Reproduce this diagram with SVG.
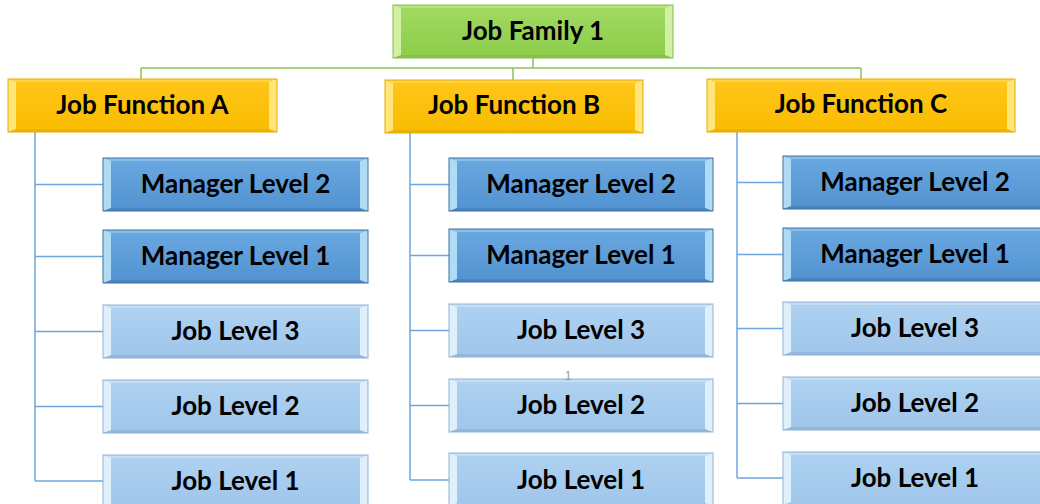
<svg xmlns="http://www.w3.org/2000/svg" width="1040" height="504" viewBox="0 0 1040 504">
  <defs>
    <linearGradient id="gGreen" x1="0" y1="0" x2="0" y2="1">
      <stop offset="0" stop-color="#a2da62"/>
      <stop offset="1" stop-color="#8ccd4a"/>
    </linearGradient>
    <linearGradient id="gOrange" x1="0" y1="0" x2="0" y2="1">
      <stop offset="0" stop-color="#ffc61a"/>
      <stop offset="1" stop-color="#f9bc00"/>
    </linearGradient>
    <linearGradient id="gMgr" x1="0" y1="0" x2="0" y2="1">
      <stop offset="0" stop-color="#6aa8e0"/>
      <stop offset="1" stop-color="#5192d0"/>
    </linearGradient>
    <linearGradient id="gJob" x1="0" y1="0" x2="0" y2="1">
      <stop offset="0" stop-color="#afd2f1"/>
      <stop offset="1" stop-color="#9fc5ea"/>
    </linearGradient>
    <style>
      .lbl { font-family: Lato, "Liberation Sans", sans-serif; font-weight: 700; font-size: 26px; text-anchor: middle; fill: #000; }
      .pg { font-family: "Liberation Sans", sans-serif; font-size: 12px; fill: #9a9a9a; text-anchor: middle; }
      .edge { fill: none; stroke-width: 1; }
      .green .face { fill: url(#gGreen); }
      .green .side { fill: #d2efa4; }
      .green .top { fill: #b6e280; }
      .green .bot { fill: #86c046; }
      .green .edge { stroke: #86bd4d; }
      .orange .face { fill: url(#gOrange); }
      .orange .side { fill: #ffe57a; }
      .orange .top { fill: #ffd245; }
      .orange .bot { fill: #eab300; }
      .orange .edge { stroke: #e6ad00; }
      .mgr .face { fill: url(#gMgr); }
      .mgr .side { fill: #b0dbf5; }
      .mgr .top { fill: #86bde9; }
      .mgr .bot { fill: #4a84bf; }
      .mgr .edge { stroke: #41719c; }
      .job .face { fill: url(#gJob); }
      .job .side { fill: #e0f0fb; }
      .job .top { fill: #c5def5; }
      .job .bot { fill: #93b8dd; }
      .job .edge { stroke: #8db1d5; }
      .cg { fill: none; stroke: #8cc35a; stroke-width: 1.5; }
      .cb { fill: none; stroke: #6fa6dc; stroke-width: 1.5; }
    </style>
  </defs>

  <rect width="1040" height="504" fill="#ffffff"/>

  <!-- connectors -->
  <g id="connectors">
    <path class="cg" d="M533 58 V68 M141 68 H861 M141 68 V79 M513 68 V80 M861 68 V79"/>
    <path class="cb" d="M35 132 V481 M35 184.5 H103 M35 256.5 H103 M35 331.5 H103 M35 406.5 H103 M35 481 H103"/>
    <path class="cb" d="M410 133 V480 M410 184.5 H449 M410 255.5 H449 M410 330.5 H449 M410 405.5 H449 M410 480 H449"/>
    <path class="cb" d="M737 132 V478 M737 182.5 H783 M737 254.5 H783 M737 328.5 H783 M737 403.5 H783 M737 478 H783"/>
  </g>

  <!-- root -->
  <g id="job-family-1" class="green" transform="translate(393,5)">
    <rect class="face" width="280" height="53"/>
    <polygon class="top" points="0,0 280,0 272,3 8,3"/>
    <polygon class="bot" points="0,53 280,53 272,50 8,50"/>
    <polygon class="side" points="0,0 8,3 8,50 0,53"/>
    <polygon class="side" points="280,0 272,3 272,50 280,53"/>
    <rect class="edge" width="280" height="53"/>
    <text class="lbl" x="140" y="35">Job Family 1</text>
  </g>

  <!-- job functions -->
  <g id="job-function-a" class="orange" transform="translate(8,79)">
    <rect class="face" width="269" height="53"/>
    <polygon class="top" points="0,0 269,0 261,3 8,3"/>
    <polygon class="bot" points="0,53 269,53 261,50 8,50"/>
    <polygon class="side" points="0,0 8,3 8,50 0,53"/>
    <polygon class="side" points="269,0 261,3 261,50 269,53"/>
    <rect class="edge" width="269" height="53"/>
    <text class="lbl" x="134.5" y="35">Job Function A</text>
  </g>
  <g id="job-function-b" class="orange" transform="translate(385,80)">
    <rect class="face" width="258" height="53"/>
    <polygon class="top" points="0,0 258,0 250,3 8,3"/>
    <polygon class="bot" points="0,53 258,53 250,50 8,50"/>
    <polygon class="side" points="0,0 8,3 8,50 0,53"/>
    <polygon class="side" points="258,0 250,3 250,50 258,53"/>
    <rect class="edge" width="258" height="53"/>
    <text class="lbl" x="129" y="34">Job Function B</text>
  </g>
  <g id="job-function-c" class="orange" transform="translate(707,79)">
    <rect class="face" width="308" height="53"/>
    <polygon class="top" points="0,0 308,0 300,3 8,3"/>
    <polygon class="bot" points="0,53 308,53 300,50 8,50"/>
    <polygon class="side" points="0,0 8,3 8,50 0,53"/>
    <polygon class="side" points="308,0 300,3 300,50 308,53"/>
    <rect class="edge" width="308" height="53"/>
    <text class="lbl" x="154" y="34">Job Function C</text>
  </g>

  <!-- column A -->
  <g id="a-manager-level-2" class="mgr" transform="translate(103,158)">
    <rect class="face" width="265" height="53"/>
    <polygon class="top" points="0,0 265,0 257,3 8,3"/>
    <polygon class="bot" points="0,53 265,53 257,50 8,50"/>
    <polygon class="side" points="0,0 8,3 8,50 0,53"/>
    <polygon class="side" points="265,0 257,3 257,50 265,53"/>
    <rect class="edge" width="265" height="53"/>
    <text class="lbl" x="132.5" y="35">Manager Level 2</text>
  </g>
  <g id="a-manager-level-1" class="mgr" transform="translate(103,230)">
    <rect class="face" width="265" height="53"/>
    <polygon class="top" points="0,0 265,0 257,3 8,3"/>
    <polygon class="bot" points="0,53 265,53 257,50 8,50"/>
    <polygon class="side" points="0,0 8,3 8,50 0,53"/>
    <polygon class="side" points="265,0 257,3 257,50 265,53"/>
    <rect class="edge" width="265" height="53"/>
    <text class="lbl" x="132.5" y="35">Manager Level 1</text>
  </g>
  <g id="a-job-level-3" class="job" transform="translate(103,305)">
    <rect class="face" width="265" height="53"/>
    <polygon class="top" points="0,0 265,0 257,3 8,3"/>
    <polygon class="bot" points="0,53 265,53 257,50 8,50"/>
    <polygon class="side" points="0,0 8,3 8,50 0,53"/>
    <polygon class="side" points="265,0 257,3 257,50 265,53"/>
    <rect class="edge" width="265" height="53"/>
    <text class="lbl" x="132.5" y="35">Job Level 3</text>
  </g>
  <g id="a-job-level-2" class="job" transform="translate(103,380)">
    <rect class="face" width="265" height="53"/>
    <polygon class="top" points="0,0 265,0 257,3 8,3"/>
    <polygon class="bot" points="0,53 265,53 257,50 8,50"/>
    <polygon class="side" points="0,0 8,3 8,50 0,53"/>
    <polygon class="side" points="265,0 257,3 257,50 265,53"/>
    <rect class="edge" width="265" height="53"/>
    <text class="lbl" x="132.5" y="35">Job Level 2</text>
  </g>
  <g id="a-job-level-1" class="job" transform="translate(103,455)">
    <rect class="face" width="265" height="53"/>
    <polygon class="top" points="0,0 265,0 257,3 8,3"/>
    <polygon class="side" points="0,0 8,3 8,50 0,53"/>
    <polygon class="side" points="265,0 257,3 257,50 265,53"/>
    <rect class="edge" width="265" height="53"/>
    <text class="lbl" x="132.5" y="35">Job Level 1</text>
  </g>

  <!-- column B -->
  <g id="b-manager-level-2" class="mgr" transform="translate(449,158)">
    <rect class="face" width="264" height="53"/>
    <polygon class="top" points="0,0 264,0 256,3 8,3"/>
    <polygon class="bot" points="0,53 264,53 256,50 8,50"/>
    <polygon class="side" points="0,0 8,3 8,50 0,53"/>
    <polygon class="side" points="264,0 256,3 256,50 264,53"/>
    <rect class="edge" width="264" height="53"/>
    <text class="lbl" x="132" y="35">Manager Level 2</text>
  </g>
  <g id="b-manager-level-1" class="mgr" transform="translate(449,229)">
    <rect class="face" width="264" height="53"/>
    <polygon class="top" points="0,0 264,0 256,3 8,3"/>
    <polygon class="bot" points="0,53 264,53 256,50 8,50"/>
    <polygon class="side" points="0,0 8,3 8,50 0,53"/>
    <polygon class="side" points="264,0 256,3 256,50 264,53"/>
    <rect class="edge" width="264" height="53"/>
    <text class="lbl" x="132" y="35">Manager Level 1</text>
  </g>
  <g id="b-job-level-3" class="job" transform="translate(449,304)">
    <rect class="face" width="264" height="53"/>
    <polygon class="top" points="0,0 264,0 256,3 8,3"/>
    <polygon class="bot" points="0,53 264,53 256,50 8,50"/>
    <polygon class="side" points="0,0 8,3 8,50 0,53"/>
    <polygon class="side" points="264,0 256,3 256,50 264,53"/>
    <rect class="edge" width="264" height="53"/>
    <text class="lbl" x="132" y="35">Job Level 3</text>
  </g>
  <g id="b-job-level-2" class="job" transform="translate(449,379)">
    <rect class="face" width="264" height="53"/>
    <polygon class="top" points="0,0 264,0 256,3 8,3"/>
    <polygon class="bot" points="0,53 264,53 256,50 8,50"/>
    <polygon class="side" points="0,0 8,3 8,50 0,53"/>
    <polygon class="side" points="264,0 256,3 256,50 264,53"/>
    <rect class="edge" width="264" height="53"/>
    <text class="lbl" x="132" y="35">Job Level 2</text>
  </g>
  <g id="b-job-level-1" class="job" transform="translate(449,453)">
    <rect class="face" width="264" height="53"/>
    <polygon class="top" points="0,0 264,0 256,3 8,3"/>
    <polygon class="side" points="0,0 8,3 8,50 0,53"/>
    <polygon class="side" points="264,0 256,3 256,50 264,53"/>
    <rect class="edge" width="264" height="53"/>
    <text class="lbl" x="132" y="36">Job Level 1</text>
  </g>

  <!-- column C -->
  <g id="c-manager-level-2" class="mgr" transform="translate(783,156)">
    <rect class="face" width="264" height="53"/>
    <polygon class="top" points="0,0 264,0 256,3 8,3"/>
    <polygon class="bot" points="0,53 264,53 256,50 8,50"/>
    <polygon class="side" points="0,0 8,3 8,50 0,53"/>
    <rect class="edge" width="264" height="53"/>
    <text class="lbl" x="132" y="35">Manager Level 2</text>
  </g>
  <g id="c-manager-level-1" class="mgr" transform="translate(783,228)">
    <rect class="face" width="264" height="53"/>
    <polygon class="top" points="0,0 264,0 256,3 8,3"/>
    <polygon class="bot" points="0,53 264,53 256,50 8,50"/>
    <polygon class="side" points="0,0 8,3 8,50 0,53"/>
    <rect class="edge" width="264" height="53"/>
    <text class="lbl" x="132" y="35">Manager Level 1</text>
  </g>
  <g id="c-job-level-3" class="job" transform="translate(783,302)">
    <rect class="face" width="264" height="53"/>
    <polygon class="top" points="0,0 264,0 256,3 8,3"/>
    <polygon class="bot" points="0,53 264,53 256,50 8,50"/>
    <polygon class="side" points="0,0 8,3 8,50 0,53"/>
    <rect class="edge" width="264" height="53"/>
    <text class="lbl" x="132" y="35">Job Level 3</text>
  </g>
  <g id="c-job-level-2" class="job" transform="translate(783,377)">
    <rect class="face" width="264" height="53"/>
    <polygon class="top" points="0,0 264,0 256,3 8,3"/>
    <polygon class="bot" points="0,53 264,53 256,50 8,50"/>
    <polygon class="side" points="0,0 8,3 8,50 0,53"/>
    <rect class="edge" width="264" height="53"/>
    <text class="lbl" x="132" y="35">Job Level 2</text>
  </g>
  <g id="c-job-level-1" class="job" transform="translate(783,452)">
    <rect class="face" width="264" height="53"/>
    <polygon class="top" points="0,0 264,0 256,3 8,3"/>
    <polygon class="side" points="0,0 8,3 8,50 0,53"/>
    <rect class="edge" width="264" height="53"/>
    <text class="lbl" x="132" y="35">Job Level 1</text>
  </g>

  <!-- page number -->
  <text class="pg" x="568" y="380">1</text>
</svg>
